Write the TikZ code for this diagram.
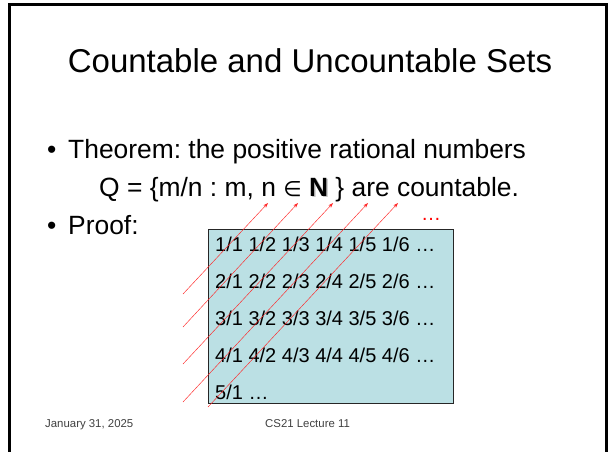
\documentclass[tikz,border=0pt]{standalone}
\usepackage{fontspec}
\setmainfont{Liberation Sans}
\newfontfamily\symfont[Scale=0.8]{DejaVu Sans}
\usetikzlibrary{arrows.meta}

\definecolor{boxblue}{RGB}{187,224,228}
\definecolor{footgray}{RGB}{64,64,64}

\newcommand\shadowN{\rlap{\hspace{1.5pt}\raisebox{-1.5pt}{\textcolor{gray!45}{\bfseries N}}}{\bfseries N}}

\tikzset{
    slidetext/.style={anchor=base west, inner sep=0pt, font=\fontsize{26.4}{30}\selectfont},
    cell/.style={anchor=base west, inner sep=0pt, font=\fontsize{20}{24}\selectfont},
    foot/.style={anchor=base west, inner sep=0pt, text=footgray, font=\fontsize{11.4}{13}\selectfont},
    diag/.style={red!85, line width=0.45pt, -{Stealth[length=5pt,width=3.5pt]}}
}

\begin{document}
\frenchspacing
\begin{tikzpicture}[x=1pt,y=-1pt]
\useasboundingbox (0,0) rectangle (608,451);

% Frame
\draw[line width=3pt] (9.5,460) -- (9.5,4.5) -- (606.5,4.5) -- (606.5,460);

% Title
\node[anchor=base, inner sep=0pt, font=\fontsize{33}{40}\selectfont] (title) at (310,72) {Countable and Uncountable Sets};

% Bullets
\node[slidetext] (bul1) at (47,158) {•};
\node[slidetext] (thm) at (68,158) {Theorem: the positive rational numbers};
\node[slidetext] (qset) at (99,196) {Q = \{m/n : m, n {\symfont ∈} \shadowN\ \} are countable.};
\node[slidetext] (bul2) at (47,234) {•};
\node[slidetext] (proof) at (68,234) {Proof:};

% Table of fractions
\node[draw=black!85, fill=boxblue, line width=0.8pt, anchor=north west, inner sep=0pt,
      minimum width=245pt, minimum height=174pt] (grid) at (208,229) {};
\foreach \r [count=\i from 0] in {1,...,4}
    \node[cell] (row\r) at (215,{251.5+37*\i}) {\r/1 \r/2 \r/3 \r/4 \r/5 \r/6 …};
\node[cell] (row5) at (215,399.5) {5/1 …};

% Diagonals
\coordinate (t1) at (268,203); \coordinate (s1) at (183,294);
\coordinate (t2) at (298,203); \coordinate (s2) at (183,327);
\coordinate (t3) at (333,203); \coordinate (s3) at (183,364);
\coordinate (t4) at (368,203); \coordinate (s4) at (183,402);
\coordinate (t5) at (398,203); \coordinate (s5) at (208,407);
\foreach \k in {1,...,5}
    \draw[diag] (s\k) -- (t\k);
\node[cell, text=red] (more) at (421,220) {…};

% Footer
\node[foot] (date) at (45,427) {January 31, 2025};
\node[foot] (lect) at (265,427) {CS21 Lecture 11};

\end{tikzpicture}
\end{document}
